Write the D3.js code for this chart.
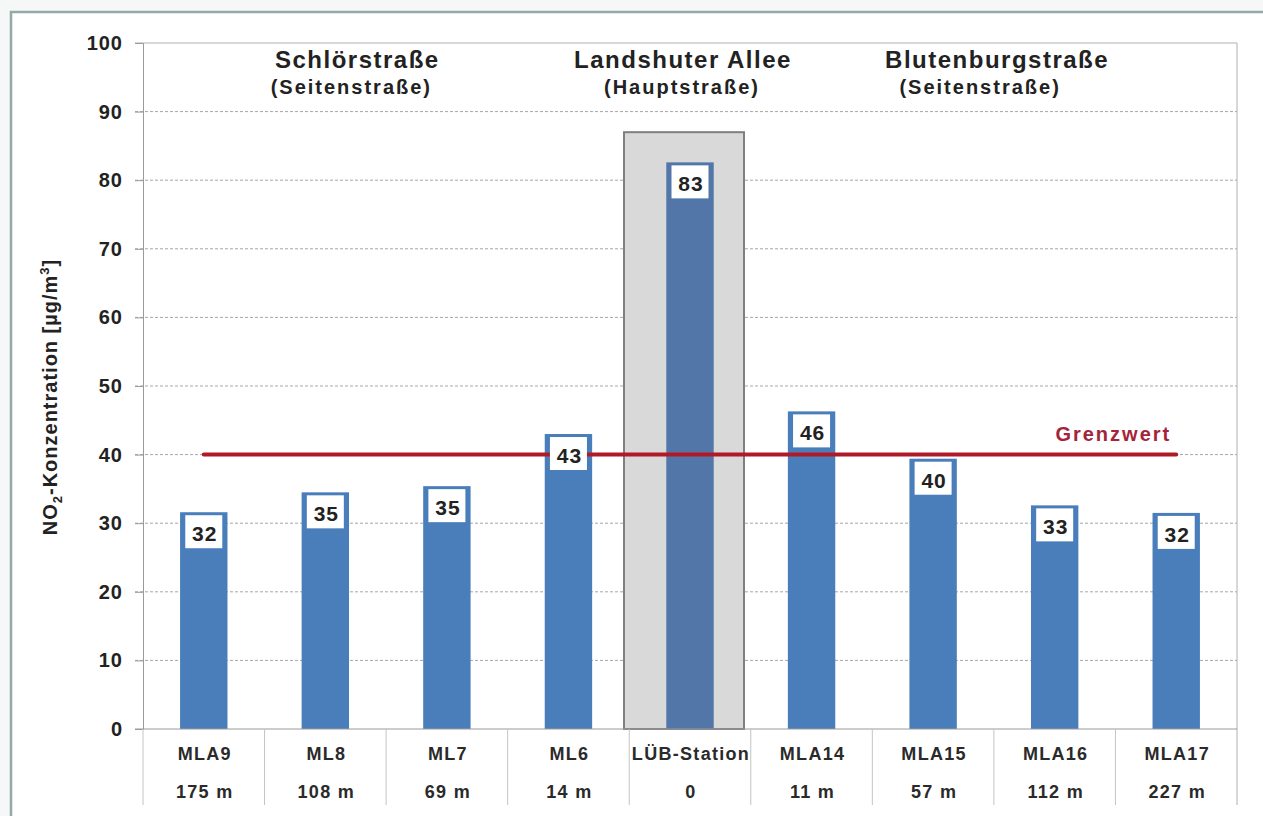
<!DOCTYPE html>
<html>
<head>
<meta charset="utf-8">
<script src="https://cdn.jsdelivr.net/npm/d3@7"></script>
<style>
  body { margin: 0; background: #f6f8f8; }
  svg { display: block; font-family: "Liberation Sans", Arial, sans-serif; }
</style>
</head>
<body>
<div id="chart-area"></div>
<script>
// data
const stations = ["MLA9", "ML8", "ML7", "ML6", "LÜB-Station", "MLA14", "MLA15", "MLA16", "MLA17"]
const distances = ["175 m", "108 m", "69 m", "14 m", "0", "11 m", "57 m", "112 m", "227 m"]
const no2Values = [31.6, 34.5, 35.4, 43.0, 82.6, 46.3, 39.4, 32.6, 31.5]
const valueLabels = [32, 35, 35, 43, 83, 46, 40, 33, 32]
const yTicks = [0, 10, 20, 30, 40, 50, 60, 70, 80, 90, 100]
const limitValue = 40
const highlightStation = "LÜB-Station"
const highlightTop = 87
const streetNames = ["Schlörstraße", "Landshuter Allee", "Blutenburgstraße"]
const streetTypes = ["(Seitenstraße)", "(Hauptstraße)", "(Seitenstraße)"]
const streetAnchors = ["ML8", "LÜB-Station", "MLA15"]

// header offsets (px) from the anchor station's centre: [name, type]
const headerShift = [[32, 26], [-7, -8], [64, 47]]

const MARGIN = { LEFT: 143, RIGHT: 26, TOP: 43, BOTTOM: 87 }
const W = 1263, H = 816
const WIDTH = W - MARGIN.LEFT - MARGIN.RIGHT
const HEIGHT = H - MARGIN.TOP - MARGIN.BOTTOM

const svg = d3.select("#chart-area").append("svg")
  .attr("width", W)
  .attr("height", H)

// outer frame
svg.append("rect")
  .attr("x", 11).attr("y", 12)
  .attr("width", W).attr("height", H)
  .attr("fill", "#ffffff")
  .attr("stroke", "#93a9a8")
  .attr("stroke-width", 2.5)

const g = svg.append("g")
  .attr("transform", `translate(${MARGIN.LEFT}, ${MARGIN.TOP})`)

const x = d3.scaleBand()
  .domain(stations)
  .range([0, WIDTH])
  .paddingInner(0.61)
  .paddingOuter(0.305)

const y = d3.scaleLinear()
  .domain([0, 100])
  .range([HEIGHT, 0])

const step = x.step()
const bandLeft = d => x(d) - step * x.paddingInner() / 2
const center = d => x(d) + x.bandwidth() / 2

// grid lines
g.append("g")
  .selectAll("line")
  .data(yTicks.filter(t => t > 0 && t < 100))
  .enter().append("line")
    .attr("x1", -8).attr("x2", WIDTH)
    .attr("y1", d => y(d)).attr("y2", d => y(d))
    .attr("stroke", "#a6a6a6")
    .attr("stroke-dasharray", "3,2")
    .attr("stroke-width", 1)

// plot border top / right
g.append("line").attr("x1", -8).attr("x2", WIDTH).attr("y1", 0).attr("y2", 0)
  .attr("stroke", "#b0b0b0")
g.append("line").attr("x1", WIDTH).attr("x2", WIDTH).attr("y1", 0).attr("y2", HEIGHT + 76)
  .attr("stroke", "#b0b0b0")

// y axis
const yAxisCall = d3.axisLeft(y).tickValues(yTicks).tickSize(8).tickPadding(12)
const yAxis = g.append("g").call(yAxisCall)
yAxis.select(".domain").attr("stroke", "#9a9a9a")
yAxis.selectAll(".tick line").attr("stroke", "#9a9a9a")
yAxis.selectAll(".tick text")
  .attr("font-size", "20px")
  .attr("font-weight", "bold")
  .attr("letter-spacing", "1px")
  .attr("fill", "#222")
  .attr("font-family", "Liberation Sans, Arial, sans-serif")

// y label
const yLabel = g.append("text")
  .attr("transform", `translate(${57 - MARGIN.LEFT}, ${397 - MARGIN.TOP}) rotate(-90)`)
  .attr("text-anchor", "middle")
  .attr("font-size", "20px")
  .attr("font-weight", "bold")
  .attr("letter-spacing", "1px")
  .attr("fill", "#222")
yLabel.append("tspan").text("NO")
yLabel.append("tspan").attr("font-size", "13px").attr("dy", 5).text("2")
yLabel.append("tspan").attr("dy", -5).text("-Konzentration [µg/m")
yLabel.append("tspan").attr("font-size", "13px").attr("dy", -8).text("3")
yLabel.append("tspan").attr("dy", 8).text("]")

// highlight box for the main road station
g.append("rect")
  .attr("x", center(highlightStation) - 66)
  .attr("y", y(highlightTop))
  .attr("width", 120)
  .attr("height", y(0) - y(highlightTop))
  .attr("fill", "#d9d9d9")
  .attr("stroke", "#7f7f7f")
  .attr("stroke-width", 2)

// bars
g.selectAll("rect.bar")
  .data(stations)
  .enter().append("rect")
    .attr("class", "bar")
    .attr("x", d => x(d))
    .attr("y", (d, i) => y(no2Values[i]))
    .attr("width", x.bandwidth())
    .attr("height", (d, i) => y(0) - y(no2Values[i]))
    .attr("fill", d => d === highlightStation ? "#5276a8" : "#4a7ebb")

// limit line
g.append("line")
  .attr("x1", center(stations[0]))
  .attr("x2", center(stations[stations.length - 1]))
  .attr("y1", y(limitValue)).attr("y2", y(limitValue))
  .attr("stroke", "#b01a28")
  .attr("stroke-width", 4)
  .attr("stroke-linecap", "round")

g.append("text")
  .attr("x", center(stations[stations.length - 1]) - 5)
  .attr("y", y(limitValue) - 14)
  .attr("text-anchor", "end")
  .attr("font-size", "20px")
  .attr("font-weight", "bold")
  .attr("letter-spacing", "2px")
  .attr("fill", "#a4243b")
  .text("Grenzwert")

// value labels
const labels = g.selectAll("g.vlabel")
  .data(stations)
  .enter().append("g")
    .attr("class", "vlabel")
    .attr("transform", (d, i) => `translate(${center(d)}, ${y(no2Values[i]) + 3})`)
labels.append("rect")
  .attr("x", -18.5).attr("y", 0)
  .attr("width", 37).attr("height", 33)
  .attr("fill", "#ffffff")
labels.append("text")
  .attr("x", 1)
  .attr("y", 26)
  .attr("text-anchor", "middle")
  .attr("font-size", "21px")
  .attr("font-weight", "bold")
  .attr("letter-spacing", "1px")
  .attr("fill", "#222")
  .text((d, i) => valueLabels[i])

// category axis (table style)
g.append("line")
  .attr("x1", -8).attr("x2", WIDTH)
  .attr("y1", HEIGHT).attr("y2", HEIGHT)
  .attr("stroke", "#9a9a9a")
g.selectAll("line.div")
  .data(stations)
  .enter().append("line")
    .attr("class", "div")
    .attr("x1", d => bandLeft(d)).attr("x2", d => bandLeft(d))
    .attr("y1", HEIGHT).attr("y2", HEIGHT + 76)
    .attr("stroke", "#c4c4c4")

g.selectAll("text.cat")
  .data(stations)
  .enter().append("text")
    .attr("class", "cat")
    .attr("x", d => center(d) + 1)
    .attr("y", HEIGHT + 31)
    .attr("text-anchor", "middle")
    .attr("font-size", "18px")
    .attr("font-weight", "bold")
    .attr("letter-spacing", "1.3px")
    .attr("fill", "#2a2a2a")
    .text(d => d)

g.selectAll("text.dist")
  .data(stations)
  .enter().append("text")
    .attr("class", "dist")
    .attr("x", d => center(d) + 1)
    .attr("y", HEIGHT + 69)
    .attr("text-anchor", "middle")
    .attr("font-size", "18px")
    .attr("font-weight", "bold")
    .attr("letter-spacing", "1.3px")
    .attr("fill", "#2a2a2a")
    .text((d, i) => distances[i])

// street headers
g.selectAll("text.sname")
  .data(streetNames)
  .enter().append("text")
    .attr("class", "sname")
    .attr("x", (d, i) => center(streetAnchors[i]) + headerShift[i][0])
    .attr("y", 25)
    .attr("text-anchor", "middle")
    .attr("font-size", "24px")
    .attr("font-weight", "bold")
    .attr("letter-spacing", "1.5px")
    .attr("fill", "#222")
    .text(d => d)

g.selectAll("text.stype")
  .data(streetTypes)
  .enter().append("text")
    .attr("class", "stype")
    .attr("x", (d, i) => center(streetAnchors[i]) + headerShift[i][1])
    .attr("y", 51)
    .attr("text-anchor", "middle")
    .attr("font-size", "20px")
    .attr("font-weight", "bold")
    .attr("letter-spacing", "2px")
    .attr("fill", "#222")
    .text(d => d)
</script>
</body>
</html>
